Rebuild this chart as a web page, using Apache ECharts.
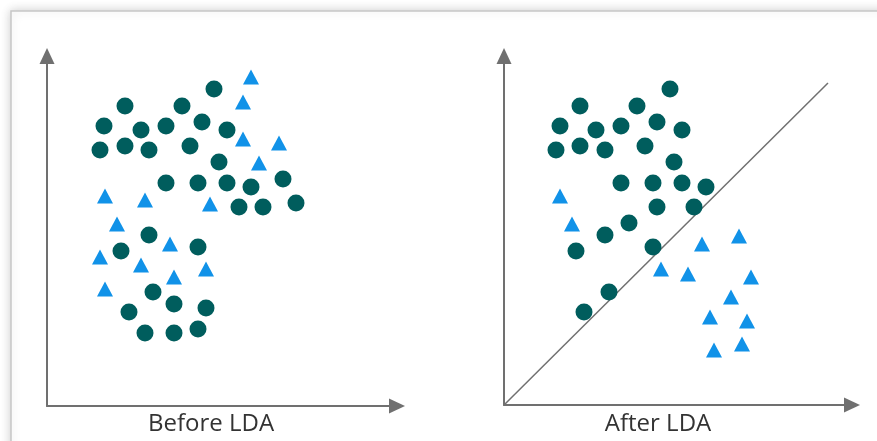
<!DOCTYPE html>
<html>
<head>
<meta charset="utf-8">
<script src="https://cdn.jsdelivr.net/npm/echarts@6/dist/echarts.min.js"></script>
<style>
html,body{margin:0;padding:0;background:#fff;}
#main{width:877px;height:441px;}
</style>
</head>
<body>
<div id="main"></div>
<script>
// Panel titles
const panelTitles = ['Before LDA', 'After LDA'];

// Before LDA: class A (circles) and class B (triangles), [x, y]
const beforeCircles = [
  [167,317],[78,300],[135,300],[57,280],[94,276],[119,280],[155,284],[180,276],
  [53,256],[78,260],[102,256],[143,260],[172,244],[119,223],[151,223],[180,223],
  [204,219],[236,227],[192,199],[216,199],[249,203],[102,171],[74,155],[151,159],
  [106,114],[127,102],[82,94],[159,98],[98,73],[127,73],[151,77]
];
const beforeTriangles = [
  [204,329],[196,304],[196,267],[232,263],[212,243],[58,210],[98,206],[163,202],
  [70,182],[123,162],[53,149],[94,141],[127,129],[159,137],[58,117]
];

// After LDA
const afterCircles = [
  [166,316],[76,299],[133,299],[56,279],[92,275],[117,279],[153,283],[178,275],
  [52,255],[76,259],[101,255],[141,259],[170,243],[117,222],[149,222],[178,222],
  [202,218],[153,198],[190,198],[125,182],[101,170],[72,154],[149,158],[105,113],[80,93]
];
const afterTriangles = [
  [56,209],[68,181],[235,169],[198,161],[157,136],[184,131],[247,128],[227,108],
  [206,88],[243,84],[210,55],[238,61]
];
// Discriminant line endpoints
const separatorLine = [[0,0],[324,322]];

const AXIS_COLOR = '#707070';
const CIRCLE_COLOR = '#005d5d';
const TRI_COLOR = '#1192e8';

function axis(max) {
  return {
    type: 'value', min: 0, max: max,
    axisLine: { show: true, onZero: false, symbol: ['none', 'triangle'], symbolSize: [15, 16],
      lineStyle: { color: AXIS_COLOR, width: 2 } },
    axisTick: { show: false }, axisLabel: { show: false }, splitLine: { show: false }
  };
}

const chart = echarts.init(document.getElementById('main'), null, { renderer: 'canvas' });
chart.setOption({
  animation: false,
  backgroundColor: '#ffffff',
  graphic: [
    { type: 'rect', z: -10, shape: { x: 11, y: 11, width: 900, height: 460 },
      style: { fill: '#ffffff', stroke: '#c6c6c6', lineWidth: 1.5,
        shadowBlur: 10, shadowColor: 'rgba(0,0,0,0.18)' } },
    { type: 'text', x: 211, y: 424, style: { text: panelTitles[0], fill: '#333333',
      font: '24px "Open Sans"', textAlign: 'center', textVerticalAlign: 'middle' } },
    { type: 'text', x: 658, y: 424, style: { text: panelTitles[1], fill: '#333333',
      font: '24px "Open Sans"', textAlign: 'center', textVerticalAlign: 'middle' } }
  ],
  grid: [
    { left: 47, top: 56, width: 350, height: 350 },
    { left: 504, top: 56, width: 348, height: 349 }
  ],
  xAxis: [ Object.assign(axis(350), { gridIndex: 0 }), Object.assign(axis(348), { gridIndex: 1 }) ],
  yAxis: [ Object.assign(axis(350), { gridIndex: 0 }), Object.assign(axis(349), { gridIndex: 1 }) ],
  series: [
    { type: 'line', xAxisIndex: 1, yAxisIndex: 1, data: separatorLine, symbol: 'none', silent: true,
      lineStyle: { color: AXIS_COLOR, width: 1.5 }, z: 1 },
    { type: 'scatter', xAxisIndex: 0, yAxisIndex: 0, data: beforeCircles, symbol: 'circle', symbolSize: 17,
      itemStyle: { color: CIRCLE_COLOR, opacity: 1 }, z: 3 },
    { type: 'scatter', xAxisIndex: 0, yAxisIndex: 0, data: beforeTriangles, symbol: 'triangle', symbolSize: [16, 15],
      itemStyle: { color: TRI_COLOR, opacity: 1 }, z: 3 },
    { type: 'scatter', xAxisIndex: 1, yAxisIndex: 1, data: afterCircles, symbol: 'circle', symbolSize: 17,
      itemStyle: { color: CIRCLE_COLOR, opacity: 1 }, z: 3 },
    { type: 'scatter', xAxisIndex: 1, yAxisIndex: 1, data: afterTriangles, symbol: 'triangle', symbolSize: [16, 15],
      itemStyle: { color: TRI_COLOR, opacity: 1 }, z: 3 }
  ]
});
</script>
</body>
</html>
